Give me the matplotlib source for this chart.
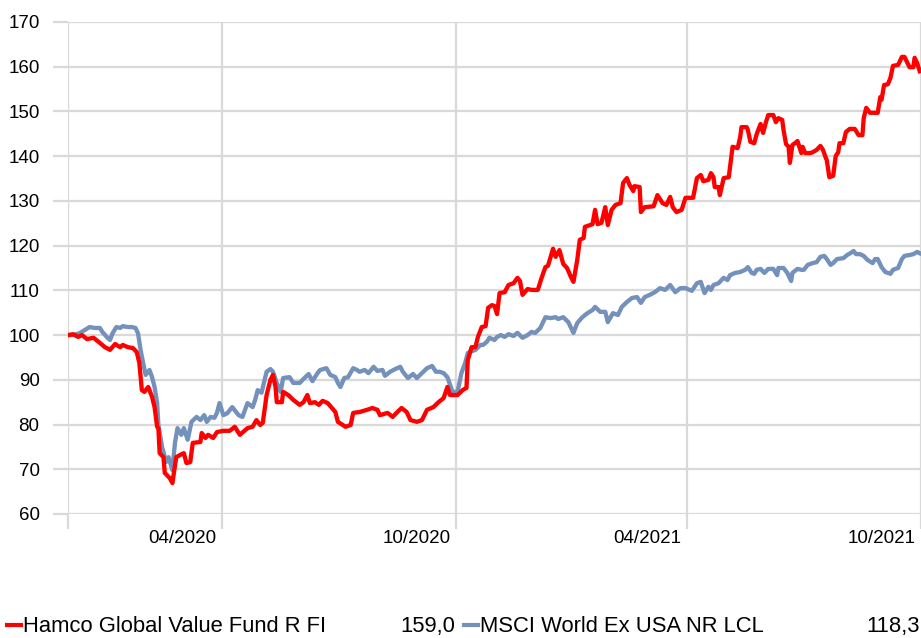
import numpy as np
import matplotlib
matplotlib.use("Agg")
import matplotlib.pyplot as plt
from matplotlib.lines import Line2D
from matplotlib.transforms import ScaledTranslation

plt.rcParams['font.family'] = ['Liberation Sans', 'DejaVu Sans']

# days since 2020-01-01 and rebased values (start = 100)
START = np.datetime64('2020-01-01')

fund_name = "Hamco Global Value Fund R FI"
fund_last = "159,0"
fund_days = [0, 4, 8, 11, 15, 20, 24, 29, 33, 37, 41, 43, 47, 51, 54, 56, 58, 60, 63, 66,
             68, 70, 71, 72, 75, 76, 80, 82, 85, 88, 91, 93, 96, 98, 104, 105, 108, 110, 114, 117,
             122, 127, 131, 135, 141, 145, 148, 151, 153, 156, 159, 161, 163, 164, 168, 169, 173, 177, 182, 185,
             188, 190, 194, 197, 200, 204, 210, 212, 218, 222, 224, 229, 235, 239, 243, 245, 251, 255, 258, 262,
             266, 269, 274, 278, 282, 287, 291, 295, 298, 300, 306, 310, 313, 314, 317, 320, 322, 325, 328, 330,
             333, 335, 337, 339, 343, 346, 350, 353, 355, 357, 361, 364, 369, 372, 375, 377, 381, 383, 386, 389,
             392, 395, 397, 400, 402, 405, 406, 410, 412, 414, 416, 419, 422, 424, 427, 430, 434, 436, 439, 441,
             444, 445, 449, 450, 453, 460, 463, 467, 470, 473, 475, 478, 482, 485, 491, 494, 497, 499, 503, 505,
             507, 508, 511, 512, 515, 519, 521, 522, 526, 528, 529, 533, 534, 536, 539, 541, 544, 546, 548, 550,
             554, 556, 558, 561, 562, 564, 566, 567, 569, 571, 573, 576, 577, 579, 583, 585, 588, 591, 593, 595,
             596, 598, 601, 603, 605, 606, 609, 611, 614, 618, 621, 624, 625, 627, 630, 636, 638, 639, 641, 644,
             646, 648, 652, 655, 657, 661, 664, 665, 667, 669]
fund_vals = [100.0, 100.2, 99.6, 100.0, 99.1, 99.4, 98.5, 97.3, 96.7, 98.0, 97.3, 97.8, 97.3, 97.1, 96.2, 93.8, 87.7, 87.3, 88.4, 86.2,
             83.9, 79.5, 79.2, 73.6, 72.7, 69.2, 68.0, 66.9, 72.7, 73.2, 73.6, 71.4, 71.6, 75.9, 76.1, 78.1, 77.0, 77.7, 77.0, 78.3,
             78.6, 78.6, 79.5, 77.7, 79.2, 79.5, 81.0, 79.9, 80.4, 86.6, 90.0, 91.1, 88.4, 85.0, 85.0, 87.3, 86.6, 85.5, 84.4, 85.0,
             86.6, 84.8, 85.0, 84.4, 85.3, 84.8, 82.8, 80.6, 79.5, 79.9, 82.6, 82.8, 83.3, 83.7, 83.3, 82.1, 82.6, 81.7, 82.6, 83.7,
             82.8, 81.0, 80.6, 81.0, 83.3, 83.9, 85.0, 85.9, 88.4, 86.6, 86.6, 87.7, 88.2, 94.4, 97.3, 97.3, 99.6, 101.8, 102.0, 106.1,
             106.7, 106.5, 104.7, 109.4, 109.6, 111.2, 111.6, 112.8, 112.1, 109.0, 110.3, 110.1, 110.1, 112.8, 115.2, 115.5, 119.3, 117.5, 119.0, 115.9,
             115.0, 113.0, 111.9, 116.8, 121.3, 121.7, 124.2, 124.6, 124.8, 128.0, 124.8, 125.1, 128.6, 124.6, 128.0, 129.1, 129.5, 134.0, 135.1, 133.6,
             132.2, 133.3, 133.1, 127.5, 128.6, 128.8, 131.3, 129.5, 129.1, 130.9, 128.6, 127.5, 128.0, 130.7, 130.7, 135.1, 135.8, 134.4, 134.7, 136.2,
             135.3, 133.1, 133.1, 131.3, 135.1, 135.3, 139.8, 142.1, 141.8, 144.3, 146.5, 146.5, 145.9, 143.2, 142.9, 145.0, 147.2, 145.2, 147.4, 149.2,
             149.2, 147.6, 148.5, 148.1, 145.9, 142.7, 142.1, 138.5, 142.5, 142.9, 143.4, 140.7, 142.1, 140.7, 140.7, 140.9, 141.4, 142.3, 141.4, 139.8,
             139.1, 135.3, 135.6, 140.0, 140.9, 142.9, 142.9, 145.4, 146.1, 146.1, 144.7, 144.7, 148.5, 150.8, 149.7, 149.7, 153.2, 152.6, 155.9, 156.1,
             157.5, 160.2, 160.4, 162.2, 162.2, 159.9, 159.9, 162.0, 160.8, 159.0]

index_name = "MSCI World Ex USA NR LCL"
index_last = "118,3"
index_days = [0, 4, 9, 13, 17, 21, 25, 27, 31, 33, 35, 38, 41, 43, 47, 50, 53, 55, 57, 59,
              61, 64, 66, 68, 70, 71, 74, 75, 77, 79, 82, 84, 86, 89, 91, 94, 97, 101, 104, 107,
              109, 112, 115, 117, 119, 122, 125, 129, 134, 137, 141, 145, 147, 149, 152, 156, 159, 161, 164, 167,
              169, 174, 177, 182, 185, 189, 192, 196, 198, 203, 206, 210, 212, 214, 217, 220, 224, 227, 229, 233,
              236, 240, 243, 247, 249, 253, 257, 261, 263, 267, 271, 274, 278, 282, 286, 289, 292, 295, 298, 302,
              306, 309, 312, 314, 320, 324, 326, 329, 331, 335, 337, 340, 343, 346, 350, 353, 357, 361, 364, 367,
              371, 375, 379, 383, 385, 389, 393, 397, 400, 404, 408, 412, 414, 418, 422, 424, 428, 432, 435, 439,
              443, 447, 450, 453, 457, 461, 465, 469, 473, 477, 481, 485, 490, 494, 497, 500, 503, 505, 507, 511,
              515, 518, 520, 524, 528, 532, 534, 537, 539, 541, 544, 547, 550, 554, 557, 558, 562, 565, 568, 569,
              573, 576, 578, 581, 585, 588, 591, 594, 596, 599, 601, 604, 609, 612, 615, 617, 619, 622, 625, 628,
              632, 634, 636, 639, 642, 646, 648, 652, 655, 657, 661, 664, 667, 669]
index_vals = [100.0, 100.0, 100.4, 101.1, 101.8, 101.6, 101.6, 100.7, 99.4, 98.9, 100.4, 101.8, 101.6, 102.0, 101.8, 101.8, 101.6, 100.4, 96.7, 93.8,
              91.1, 92.2, 90.6, 88.4, 84.8, 79.9, 74.8, 73.9, 71.6, 72.7, 69.8, 75.9, 79.2, 77.7, 79.2, 76.6, 80.6, 81.7, 81.0, 82.1,
              80.6, 81.7, 81.5, 82.6, 84.8, 82.1, 82.5, 83.9, 82.1, 81.7, 84.8, 83.9, 85.5, 87.7, 87.1, 91.8, 92.4, 91.8, 89.3, 87.3,
              90.4, 90.6, 89.3, 89.3, 90.2, 91.3, 89.7, 91.5, 92.2, 92.6, 91.1, 90.6, 89.3, 88.4, 90.4, 90.6, 92.6, 92.2, 91.8, 92.2,
              91.5, 92.9, 92.0, 92.2, 90.9, 91.8, 92.4, 92.9, 91.8, 90.4, 91.3, 90.4, 91.5, 92.6, 93.1, 91.8, 91.8, 91.5, 90.6, 87.3,
              87.3, 91.5, 93.8, 96.0, 96.7, 97.8, 97.8, 98.5, 99.4, 98.9, 99.6, 100.0, 99.6, 100.2, 99.8, 100.5, 99.4, 100.0, 100.7, 100.5,
              101.6, 104.0, 103.8, 104.0, 103.6, 104.0, 102.9, 100.5, 102.7, 104.0, 104.9, 105.6, 106.3, 105.2, 105.2, 102.9, 104.9, 104.5, 106.3, 107.4,
              108.3, 108.5, 107.2, 108.5, 109.0, 109.6, 110.5, 110.1, 111.2, 109.6, 110.5, 110.5, 109.9, 111.6, 111.9, 109.4, 110.8, 110.1, 111.2, 111.6,
              112.8, 112.3, 113.4, 113.9, 114.1, 114.6, 115.2, 113.9, 113.7, 114.6, 114.8, 113.9, 114.8, 114.8, 113.4, 115.0, 115.0, 113.9, 112.1, 113.9,
              114.8, 114.6, 114.6, 115.7, 116.1, 116.3, 117.5, 117.7, 117.0, 115.7, 116.1, 117.0, 117.2, 117.9, 118.4, 118.8, 118.1, 118.1, 117.7, 116.8,
              116.1, 117.0, 117.0, 115.2, 114.1, 113.7, 114.6, 115.0, 117.0, 117.7, 117.9, 118.1, 118.6, 118.3]

tick_dates = ['2020-01-01', '2020-05-01', '2020-11-01', '2021-05-01', '2021-11-01']
tick_labels = ['', '04/2020', '10/2020', '04/2021', '10/2021']
y_ticks = list(range(60, 171, 10))

RED = '#ff0000'
BLUE = '#7391bb'
GRID = '#d9d9d9'

fig = plt.figure(figsize=(9.21, 6.38), dpi=100)
ax = fig.add_axes([68 / 921, 1 - 514 / 638, 853 / 921, 492 / 638])

fund_x = START + np.array(fund_days).astype('timedelta64[D]')
index_x = START + np.array(index_days).astype('timedelta64[D]')

ax.plot(index_x, index_vals, color=BLUE, lw=3.1, solid_joinstyle='round', zorder=3)
ax.plot(fund_x, fund_vals, color=RED, lw=3.1, solid_joinstyle='round', zorder=4)

ax.set_xlim(np.datetime64(tick_dates[0]), np.datetime64(tick_dates[-1]))
ax.set_ylim(60, 170)
ax.set_yticks(y_ticks)
ax.set_xticks([np.datetime64(d) for d in tick_dates])
ax.set_xticklabels(tick_labels, ha='right')
ax.grid(True, color=GRID, lw=1.6)
ax.set_axisbelow(True)
for s in ax.spines.values():
    s.set_visible(False)
ax.tick_params(axis='both', length=10.5, width=1.6, color=GRID, labelsize=13.5)
ax.tick_params(axis='x', pad=1)
ax.tick_params(axis='y', pad=10)
offset = ScaledTranslation(-4 / 72, 0, fig.dpi_scale_trans)
for lab in ax.get_xticklabels():
    lab.set_transform(lab.get_transform() + offset)

# legend row along the bottom
y_leg = 1 - 632 / 638
y_mark = 1 - 625 / 638
fig.add_artist(Line2D([7 / 921, 21 / 921], [y_mark, y_mark], color=RED, lw=3))
fig.text(23 / 921, y_leg, fund_name, fontsize=15.8, va='baseline', ha='left')
fig.text(455 / 921, y_leg, fund_last, fontsize=15.8, va='baseline', ha='right')
fig.add_artist(Line2D([464 / 921, 478 / 921], [y_mark, y_mark], color=BLUE, lw=3))
fig.text(480 / 921, y_leg, index_name, fontsize=15.8, va='baseline', ha='left')
fig.text(920 / 921, y_leg, index_last, fontsize=15.8, va='baseline', ha='right')

fig.savefig('out.png', dpi=100)
